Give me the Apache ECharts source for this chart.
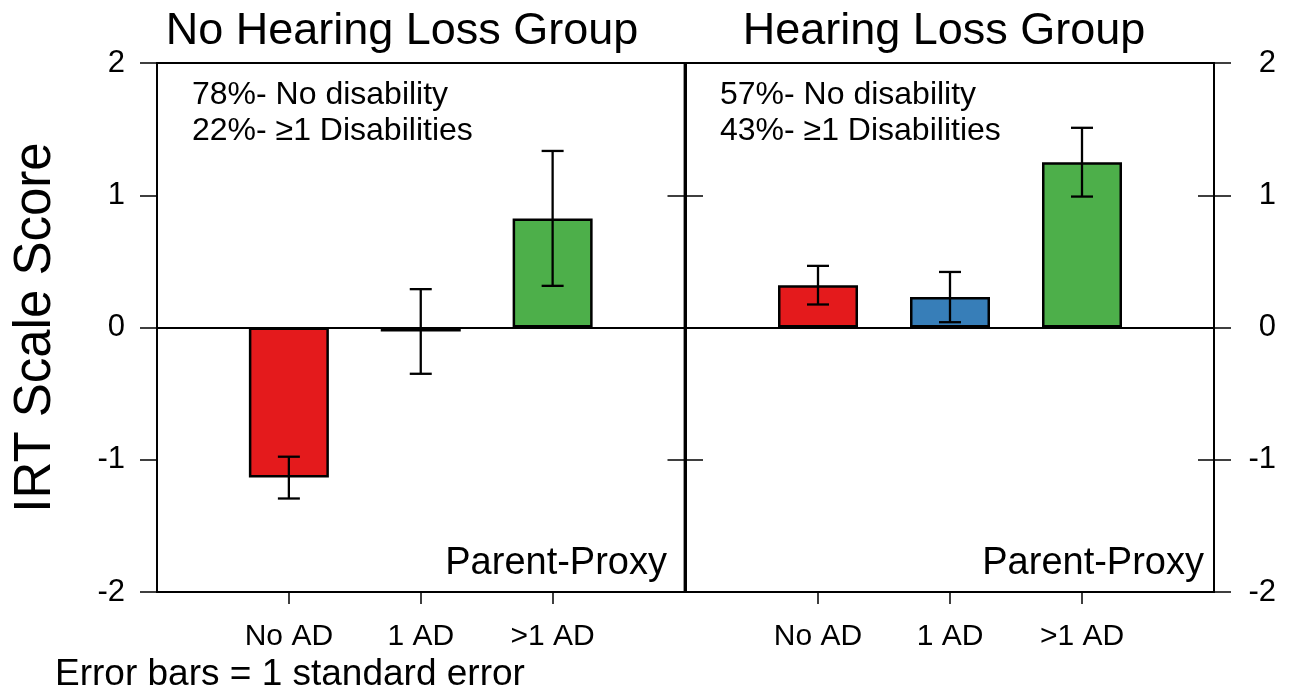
<!DOCTYPE html>
<html>
<head>
<meta charset="utf-8">
<script src="https://cdn.jsdelivr.net/npm/echarts@6/dist/echarts.min.js"></script>
<style>
html,body{margin:0;padding:0;background:#fff;}
#chart{width:1292px;height:690px;}
</style>
</head>
<body>
<div id="chart"></div>
<script>
// ---- data ----
const categories = ['No AD', '1 AD', '>1 AD'];
const barColors = ['#E41A1C', '#377EB8', '#4DAF4A'];
const panelTitles = ['No Hearing Loss Group', 'Hearing Loss Group'];
const noHLMeans = [-1.135, -0.03, 0.825];
const noHLSE = [0.158, 0.32, 0.51];
const hlMeans = [0.32, 0.23, 1.25];
const hlSE = [0.146, 0.19, 0.26];
const noHLNotes = ['78%- No disability', '22%- \u22651 Disabilities'];
const hlNotes = ['57%- No disability', '43%- \u22651 Disabilities'];
const yTicks = [-2, -1, 0, 1, 2];
const yTitle = 'IRT Scale Score';
const panelTag = 'Parent-Proxy';
const footNote = 'Error bars = 1 standard error';

const FONT = '"Liberation Sans", Arial, sans-serif';
const padCats = [''].concat(categories, [' ']);

function barData(means) {
  return [null].concat(means.map((v, i) => ({
    value: v,
    itemStyle: { color: barColors[i] }
  })), [null]);
}
function errData(means, se) {
  return means.map((m, i) => [categories[i], m, se[i]]);
}
function renderErr(params, api) {
  const x = api.value(0);
  const m = api.value(1);
  const s = api.value(2);
  const top = api.coord([x, m + s]);
  const bot = api.coord([x, m - s]);
  const hw = 11;
  const st = { stroke: '#000', lineWidth: 2.3 };
  return {
    type: 'group',
    children: [
      { type: 'line', shape: { x1: top[0], y1: top[1], x2: bot[0], y2: bot[1] }, style: st },
      { type: 'line', shape: { x1: top[0] - hw, y1: top[1], x2: top[0] + hw, y2: top[1] }, style: st },
      { type: 'line', shape: { x1: bot[0] - hw, y1: bot[1], x2: bot[0] + hw, y2: bot[1] }, style: st }
    ]
  };
}

const yMin = yTicks[0], yMax = yTicks[yTicks.length - 1];
const yInt = yTicks[1] - yTicks[0];

function xAxisFor(gi) {
  return {
    type: 'category', gridIndex: gi, data: padCats, boundaryGap: false, position: 'bottom',
    axisLine: { show: true, onZero: false, lineStyle: { color: '#000', width: 1.8 } },
    axisTick: { show: true, length: 12, lineStyle: { color: '#000', width: 1.5 },
      interval: (idx) => idx >= 1 && idx <= categories.length },
    axisLabel: { show: true, interval: (idx) => idx >= 1 && idx <= categories.length,
      color: '#000', fontSize: 30, fontFamily: FONT, margin: 30 },
    splitLine: { show: false }
  };
}
function yAxisFor(gi, pos, opts) {
  return Object.assign({
    type: 'value', gridIndex: gi, position: pos, min: yMin, max: yMax, interval: yInt,
    axisLine: { show: true, onZero: false, lineStyle: { color: '#000', width: 1.8 } },
    axisTick: { show: true, inside: false, length: 17, lineStyle: { color: '#000', width: 1.5 } },
    axisLabel: { show: false },
    splitLine: { show: false }
  }, opts);
}

const chart = echarts.init(document.getElementById('chart'), null, { renderer: 'canvas' });

const zeroLine = {
  symbol: 'none', silent: true, label: { show: false },
  lineStyle: { color: '#000', width: 2, type: 'solid' },
  data: [{ yAxis: 0 }]
};

const option = {
  animation: false,
  backgroundColor: '#fff',
  grid: [
    { left: 157, right: 1292 - 684.5, top: 63, bottom: 98, show: true, borderColor: '#000', borderWidth: 1.8, backgroundColor: 'transparent' },
    { left: 686, right: 1292 - 1214, top: 63, bottom: 98, show: true, borderColor: '#000', borderWidth: 1.8, backgroundColor: 'transparent' }
  ],
  xAxis: [xAxisFor(0), xAxisFor(1)],
  yAxis: [
    yAxisFor(0, 'left', {
      axisLabel: { show: true, color: '#000', fontSize: 31, fontFamily: FONT, margin: 32 },
      name: yTitle, nameLocation: 'middle', nameRotate: 90, nameGap: 96,
      nameTextStyle: { color: '#000', fontSize: 51, fontFamily: FONT }
    }),
    yAxisFor(0, 'right', { axisTick: { show: true, inside: true, length: 17, lineStyle: { color: '#000', width: 1.5 } } }),
    yAxisFor(1, 'left', { axisTick: { show: true, inside: true, length: 17, lineStyle: { color: '#000', width: 1.5 } } }),
    yAxisFor(1, 'right', {
      axisLabel: { show: true, color: '#000', fontSize: 31, fontFamily: FONT, margin: 62, align: 'right' }
    }),
    yAxisFor(1, 'right', { axisTick: { show: true, inside: true, length: 16, lineStyle: { color: '#000', width: 1.5 } } })
  ],
  series: [
    { type: 'bar', xAxisIndex: 0, yAxisIndex: 0, barWidth: 80, data: barData(noHLMeans),
      itemStyle: { borderColor: '#000', borderWidth: 2.5 }, markLine: zeroLine },
    { type: 'bar', xAxisIndex: 1, yAxisIndex: 2, barWidth: 80, data: barData(hlMeans),
      itemStyle: { borderColor: '#000', borderWidth: 2.5 }, markLine: zeroLine },
    { type: 'custom', xAxisIndex: 0, yAxisIndex: 0, renderItem: renderErr, data: errData(noHLMeans, noHLSE), z: 5 },
    { type: 'custom', xAxisIndex: 1, yAxisIndex: 2, renderItem: renderErr, data: errData(hlMeans, hlSE), z: 5 }
  ],
  graphic: [
    { type: 'text', x: 402, y: 32, style: { text: panelTitles[0], fontSize: 45, fontFamily: FONT, fill: '#000', align: 'center', verticalAlign: 'middle' } },
    { type: 'text', x: 944, y: 32, style: { text: panelTitles[1], fontSize: 45, fontFamily: FONT, fill: '#000', align: 'center', verticalAlign: 'middle' } },
    { type: 'text', x: 192, y: 95, style: { text: noHLNotes[0], fontSize: 32, fontFamily: FONT, fill: '#000', align: 'left', verticalAlign: 'middle' } },
    { type: 'text', x: 192, y: 131, style: { text: noHLNotes[1], fontSize: 32, fontFamily: FONT, fill: '#000', align: 'left', verticalAlign: 'middle' } },
    { type: 'text', x: 720, y: 95, style: { text: hlNotes[0], fontSize: 32, fontFamily: FONT, fill: '#000', align: 'left', verticalAlign: 'middle' } },
    { type: 'text', x: 720, y: 131, style: { text: hlNotes[1], fontSize: 32, fontFamily: FONT, fill: '#000', align: 'left', verticalAlign: 'middle' } },
    { type: 'text', x: 667, y: 564, style: { text: panelTag, fontSize: 38, fontFamily: FONT, fill: '#000', align: 'right', verticalAlign: 'middle' } },
    { type: 'text', x: 1204, y: 564, style: { text: panelTag, fontSize: 38, fontFamily: FONT, fill: '#000', align: 'right', verticalAlign: 'middle' } },
    { type: 'text', x: 55, y: 675, style: { text: footNote, fontSize: 37, fontFamily: FONT, fill: '#000', align: 'left', verticalAlign: 'middle' } }
  ]
};
chart.setOption(option);
</script>
</body>
</html>
